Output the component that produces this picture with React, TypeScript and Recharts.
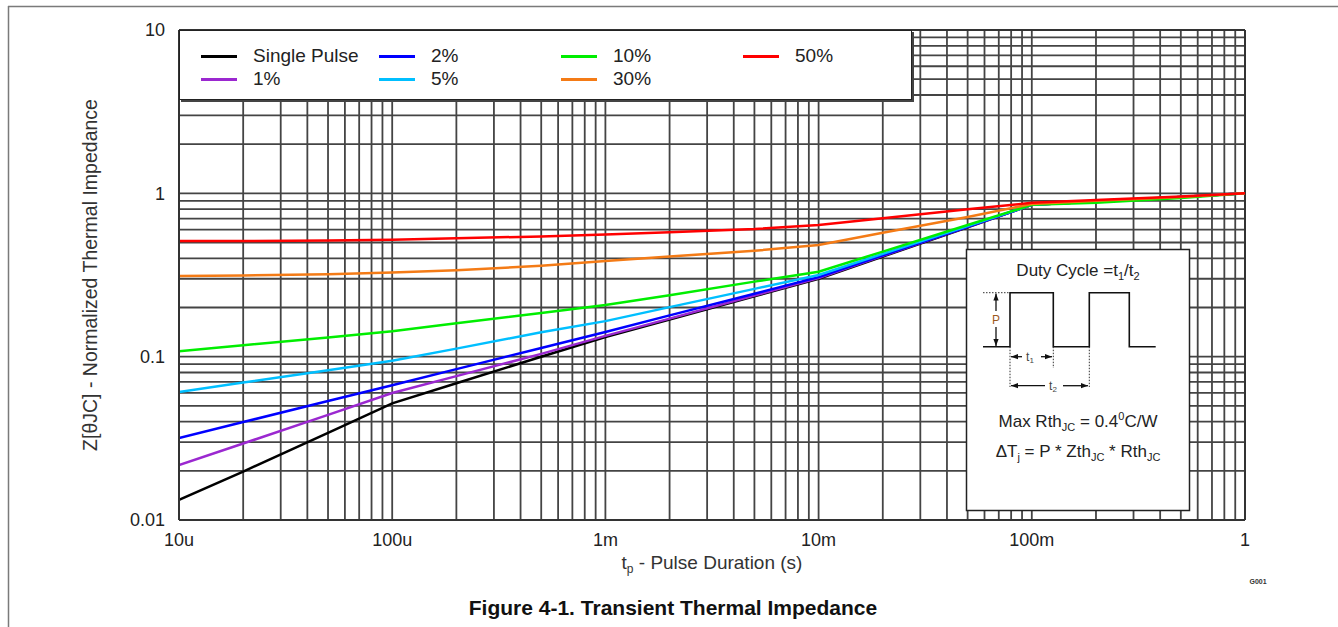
import { Label, Legend, Line, LineChart, ReferenceLine, XAxis, YAxis } from 'recharts'

// pulse duration (s)
const pulseDurations = [1e-5, 2e-5, 5e-5, 1e-4, 2e-4, 5e-4, 1e-3, 2e-3, 5e-3, 1e-2, 2e-2, 5e-2, 0.1, 0.2, 0.5, 1]

// normalized Zth per duty cycle
const singlePulse = [0.0133, 0.0198, 0.0342, 0.0518, 0.0687, 0.0998, 0.132, 0.169, 0.234, 0.3, 0.41, 0.62, 0.85, 0.89, 0.95, 1.0]
const duty1 = [0.0217, 0.0294, 0.044, 0.0599, 0.076, 0.104, 0.134, 0.171, 0.237, 0.303, 0.414, 0.623, 0.85, 0.89, 0.95, 1.0]
const duty2 = [0.0318, 0.0398, 0.0535, 0.0669, 0.0839, 0.113, 0.1417, 0.179, 0.243, 0.307, 0.417, 0.624, 0.85, 0.89, 0.95, 1.0]
const duty5 = [0.0608, 0.0694, 0.0827, 0.0944, 0.112, 0.141, 0.165, 0.201, 0.26, 0.316, 0.426, 0.63, 0.85, 0.89, 0.95, 1.0]
const duty10 = [0.108, 0.1175, 0.131, 0.143, 0.16, 0.185, 0.207, 0.238, 0.288, 0.331, 0.44, 0.64, 0.85, 0.875, 0.935, 1.0]
const duty30 = [0.312, 0.314, 0.32, 0.327, 0.338, 0.36, 0.385, 0.41, 0.445, 0.483, 0.573, 0.716, 0.86, 0.9, 0.95, 1.0]
const duty50 = [0.51, 0.51, 0.515, 0.52, 0.53, 0.545, 0.56, 0.578, 0.605, 0.64, 0.703, 0.798, 0.875, 0.91, 0.955, 1.0]

const seriesNames = ['Single Pulse', '1%', '2%', '5%', '10%', '30%', '50%']
const seriesValues = [singlePulse, duty1, duty2, duty5, duty10, duty30, duty50]
const seriesColors = ['#000000', '#9b28d0', '#0000ff', '#00bfff', '#00ee00', '#f47b16', '#ff0000']

const xTicks = [1e-5, 1e-4, 1e-3, 1e-2, 1e-1, 1]
const xTickLabels = ['10u', '100u', '1m', '10m', '100m', '1']
const yTicks = [0.01, 0.1, 1, 10]
const yTickLabels = ['0.01', '0.1', '1', '10']

const data = pulseDurations.map((t, i) => {
	const row: Record<string, number> = { t }
	seriesValues.forEach((vals, s) => {
		row['s' + s] = vals[i]
	})
	return row
})

// log grid: 1..9 in every decade
const minorGrid = (from: number, to: number) => {
	const out: number[] = []
	for (let d = from; d < to; d++) {
		for (let k = 2; k <= 9; k++) out.push(k * Math.pow(10, d))
		if (d > from) out.push(Math.pow(10, d))
	}
	return out
}
const gridX = minorGrid(-5, 0)
const gridY = minorGrid(-2, 1)

const gridColor = '#444'
const font = '"Liberation Sans", Arial, sans-serif'

// legend is laid out column by column, like the original
const legendColumns = [[0, 1], [2, 3], [4, 5], [6]]
const legendColX = [21, 199, 381, 563]

const renderLegend = () => (
	<div style={{ position: 'relative', width: '100%', height: '100%', fontFamily: font }}>
		{legendColumns.map((col, c) =>
			col.map((s, r) => (
				<div
					key={s}
					style={{
						position: 'absolute',
						left: legendColX[c],
						top: 14 + r * 23,
						display: 'flex',
						alignItems: 'center',
						height: 22,
					}}
				>
					<span style={{ display: 'inline-block', width: 36, height: 3, background: seriesColors[s] }} />
					<span style={{ marginLeft: 16, fontSize: 19, color: '#222' }}>{seriesNames[s]}</span>
				</div>
			))
		)}
	</div>
)

const Inset = () => (
	<g fontFamily={font} fill='#222'>
		<defs>
			<marker id='arr' viewBox='0 0 8 6' refX='8' refY='3' markerWidth='7' markerHeight='6' markerUnits='userSpaceOnUse' orient='auto'>
				<path d='M0,0 L8,3 L0,6 z' fill='#111' />
			</marker>
		</defs>
		<rect x={966.5} y={249.5} width={223} height={261} fill='#fff' stroke='#222' strokeWidth={1.5} />
		<text x={1078} y={276} textAnchor='middle' fontSize={17}>
			Duty Cycle =t<tspan fontSize={11} dy={4}>1</tspan>
			<tspan dy={-4}>/t</tspan>
			<tspan fontSize={11} dy={4}>2</tspan>
		</text>
		<polyline
			points='983,346.7 1010,346.7 1010,292.7 1053.3,292.7 1053.3,346.7 1089.3,346.7 1089.3,292.7 1129.3,292.7 1129.3,346.7 1155.7,346.7'
			fill='none'
			stroke='#111'
			strokeWidth={1.6}
		/>
		<g stroke='#333' strokeWidth={1} strokeDasharray='1.5 1.5'>
			<line x1={983} y1={292.7} x2={1010} y2={292.7} />
			<line x1={1010} y1={346.7} x2={1010} y2={387} />
			<line x1={1053.3} y1={346.7} x2={1053.3} y2={368} />
			<line x1={1089.3} y1={346.7} x2={1089.3} y2={387} />
		</g>
		<g stroke='#111' strokeWidth={1.3}>
			<line x1={996} y1={311} x2={996} y2={293.5} markerEnd='url(#arr)' />
			<line x1={996} y1={327} x2={996} y2={346} markerEnd='url(#arr)' />
			<line x1={1022} y1={356.7} x2={1011} y2={356.7} markerEnd='url(#arr)' />
			<line x1={1041} y1={356.7} x2={1052} y2={356.7} markerEnd='url(#arr)' />
			<line x1={1045} y1={385.7} x2={1011} y2={385.7} markerEnd='url(#arr)' />
			<line x1={1063} y1={385.7} x2={1088} y2={385.7} markerEnd='url(#arr)' />
		</g>
		<text x={996} y={323.5} textAnchor='middle' fontSize={12} fill='#9c5a1e'>P</text>
		<text x={1030} y={361} textAnchor='middle' fontSize={12} fill='#444'>
			t<tspan fontSize={8} dy={2}>1</tspan>
		</text>
		<text x={1053} y={390} textAnchor='middle' fontSize={12} fill='#444'>
			t<tspan fontSize={8} dy={2}>2</tspan>
		</text>
		<text x={1078} y={427} textAnchor='middle' fontSize={17}>
			Max Rth<tspan fontSize={11} dy={4}>JC</tspan>
			<tspan dy={-4}> = 0.4</tspan>
			<tspan fontSize={11} dy={-7}>0</tspan>
			<tspan dy={7}>C/W</tspan>
		</text>
		<text x={1078} y={457} textAnchor='middle' fontSize={17}>
			ΔT<tspan fontSize={11} dy={4}>j</tspan>
			<tspan dy={-4}> = P * Zth</tspan>
			<tspan fontSize={11} dy={4}>JC</tspan>
			<tspan dy={-4}> * Rth</tspan>
			<tspan fontSize={11} dy={4}>JC</tspan>
		</text>
	</g>
)

const App = () => {
	return (
		<div style={{ position: 'absolute', left: 0, top: 0, width: 1338, height: 627, background: '#fff', overflow: 'hidden', fontFamily: font }}>
			<LineChart width={1338} height={627} data={data} margin={{ top: 30, right: 93, bottom: 67, left: 119 }}>
				{gridX.map((v) => (
					<ReferenceLine key={'gx' + v} x={v} stroke={gridColor} strokeWidth={1.8} />
				))}
				{gridY.map((v) => (
					<ReferenceLine key={'gy' + v} y={v} stroke={gridColor} strokeWidth={1.8} />
				))}
				<ReferenceLine x={1} stroke='#333' strokeWidth={2} />
				<ReferenceLine y={10} stroke='#333' strokeWidth={2} />
				<XAxis
					dataKey='t'
					type='number'
					scale='log'
					domain={[1e-5, 1]}
					ticks={xTicks}
					tickFormatter={(v) => xTickLabels[xTicks.indexOf(v)] ?? ''}
					allowDataOverflow
					height={40}
					tickLine={false}
					tickSize={0}
					tickMargin={13}
					axisLine={{ stroke: '#333', strokeWidth: 2 }}
					tick={{ fill: '#222', fontSize: 18, fontFamily: font }}
					interval={0}
				>
					<Label
						content={({ viewBox }: any) => (
							<text x={viewBox.x + viewBox.width / 2} y={569} textAnchor='middle' fontSize={19} fill='#333' fontFamily={font}>
								t<tspan fontSize={12} dy={4}>p</tspan>
								<tspan dy={-4}> - Pulse Duration (s)</tspan>
							</text>
						)}
					/>
				</XAxis>
				<YAxis
					type='number'
					scale='log'
					domain={[0.01, 10]}
					ticks={yTicks}
					tickFormatter={(v) => yTickLabels[yTicks.indexOf(v)] ?? ''}
					allowDataOverflow
					width={60}
					tickLine={false}
					tickSize={0}
					tickMargin={14}
					axisLine={{ stroke: '#333', strokeWidth: 2 }}
					tick={{ fill: '#222', fontSize: 18, fontFamily: font }}
					interval={0}
				>
					<Label
						content={() => (
							<text x={97} y={275} transform='rotate(-90, 97, 275)' textAnchor='middle' fontSize={19.5} fill='#333' fontFamily={font}>
								Z[θJC] - Normalized Thermal Impedance
							</text>
						)}
					/>
				</YAxis>
				{seriesValues.map((_, s) => (
					<Line
						key={s}
						dataKey={'s' + s}
						name={seriesNames[s]}
						type='linear'
						stroke={seriesColors[s]}
						strokeWidth={2.5}
						dot={false}
						activeDot={false}
						isAnimationActive={false}
					/>
				))}
				<Legend
					verticalAlign='middle'
					align='center'
					layout='horizontal'
					content={renderLegend}
					wrapperStyle={{
						left: 179,
						top: 30,
						width: 733,
						height: 70,
						background: '#fff',
						border: '1px solid #222',
						boxShadow: '2px 2px 0 #444',
						boxSizing: 'border-box',
					}}
				/>
			</LineChart>
			<svg width={1338} height={627} style={{ position: 'absolute', left: 0, top: 0, pointerEvents: 'none' }}>
				<line x1={8.5} y1={6} x2={8.5} y2={627} stroke='#7a7a7a' strokeWidth={1.5} />
				<line x1={8} y1={6.5} x2={1338} y2={6.5} stroke='#7a7a7a' strokeWidth={1.5} />
				<Inset />
				<text x={1258} y={584} textAnchor='middle' fontSize={7} fontWeight='bold' fill='#333' fontFamily={font}>
					G001
				</text>
				<text x={673} y={615} textAnchor='middle' fontSize={21} fontWeight='bold' fill='#111' fontFamily={font}>
					Figure 4-1. Transient Thermal Impedance
				</text>
			</svg>
		</div>
	)
}

export default App
